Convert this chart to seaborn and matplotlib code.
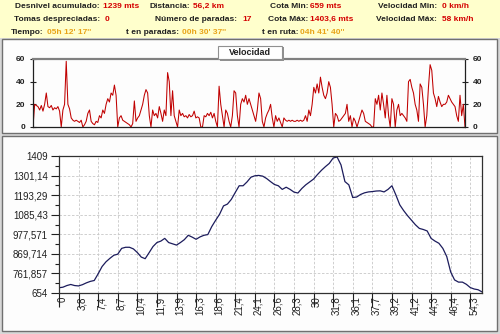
import numpy as np
import pandas as pd
import matplotlib
matplotlib.use("Agg")
import matplotlib.pyplot as plt
import matplotlib.transforms as mtransforms
from matplotlib.patches import Rectangle
import seaborn as sns

# ---------------- data ----------------
speed_kmh = [
    0, 20, 19, 18, 15, 19, 14, 20, 30, 18, 17, 19, 15, 17, 16, 18, 14, 0, 15, 20,
    58, 20, 16, 8, 6, 5, 6, 5, 4, 6, 0, 2, 5, 12, 15, 5, 3, 2, 5, 4,
    10, 8, 15, 12, 20, 25, 22, 30, 28, 37, 28, 0, 8, 10, 6, 5, 4, 3, 2, 0,
    3, 23, 5, 8, 10, 15, 20, 28, 33, 30, 10, 0, 15, 10, 12, 8, 18, 12, 5, 15,
    10, 48, 40, 10, 32, 10, 5, 0, 15, 10, 12, 9, 10, 8, 11, 9, 10, 14, 8, 9,
    8, 0, 0, 10, 9, 12, 10, 13, 8, 12, 5, 0, 36, 20, 10, 0, 15, 12, 5, 0,
    10, 32, 30, 10, 0, 20, 25, 22, 28, 20,
    25, 20, 15, 10, 5, 15, 30, 25, 5, 0, 8, 12, 15, 20, 8, 0, 10, 5, 8, 4,
    0, 8, 6, 5, 6, 5, 6, 5, 5, 6, 5, 6, 5, 6, 10, 5, 15, 10, 20, 35,
    30, 38, 30, 44, 35, 28, 25, 30, 40, 35, 20, 0, 12, 10, 5, 6, 8, 10, 12, 20,
    5, 10, 0, 8, 5, 0, 5, 10, 15, 12, 5, 4, 3, 2, 0, 0, 25, 20, 28, 15,
    30, 20, 8, 28, 10, 0, 25, 20, 0, 15, 20, 10, 12, 10, 8, 5, 40, 42, 35, 30,
    20, 15, 5, 38, 35, 20, 0, 10, 35, 55, 50, 30, 25, 18, 27, 22, 18, 20, 20, 22,
    28, 25, 22, 20, 18, 10, 5, 28, 10, 20, 0,
]

elevation_m = [
    683, 686, 695, 701, 695, 693, 700, 710, 718, 723,
    760, 800, 826, 845, 862, 868, 900, 906, 906, 897,
    877, 852, 843, 876, 910, 932, 940, 955, 932, 925,
    918, 932, 948, 972, 962, 950, 963, 972, 976, 1020,
    1055, 1088, 1134, 1144, 1170, 1208, 1245, 1245, 1266, 1292,
    1300, 1302, 1298, 1285, 1268, 1252, 1245, 1225, 1237, 1225,
    1210, 1205, 1230, 1250, 1266, 1282, 1307, 1330, 1350, 1368,
    1398, 1403.6, 1360, 1268, 1250, 1180, 1183, 1197, 1206, 1211,
    1213, 1216, 1217, 1211, 1225, 1245, 1195, 1140, 1108, 1080,
    1055, 1030, 1010, 1004, 996, 955, 940, 928, 900, 855,
    770, 726, 714, 714, 702, 684, 676, 672, 660,
]

km_labels = ["0", "3,8", "7,4", "8,7", "10,4", "11,9", "13,9", "16,3", "18,6",
             "21,4", "24,1", "26,6", "28,3", "30", "31,8", "36,1", "37,7",
             "39,2", "41,2", "44,3", "46,4", "54,3"]

elev_tick_labels = ["654", "761,857", "869,714", "977,571", "1085,43",
                    "1193,29", "1301,14", "1409"]
elev_min, elev_max = 654, 1409

speed_ticks = [0, 20, 40, 60]

header_labels = [
    ("Desnivel acumulado:", "1239 mts"), ("Distancia:", "56,2 km"),
    ("Cota Min:", "659 mts"), ("Velocidad Min:", "0 km/h"),
    ("Tomas despreciadas:", "0"), ("Número de paradas:", "17"),
    ("Cota Máx:", "1403,6 mts"), ("Velocidad Máx:", "58 km/h"),
    ("Tiempo:", "05h 12' 17''"), ("t en paradas:", "00h 30' 37''"),
    ("t en ruta:", "04h 41' 40''"),
]

# ---------------- style ----------------
sns.set_style("white")
plt.rcParams['font.family'] = ['Liberation Sans', 'DejaVu Sans']

W, H = 500, 334
fig = plt.figure(figsize=(W / 100, H / 100), dpi=100)
fig.patch.set_facecolor('white')


def fx(x):
    return x / W


def fy(y):
    return 1 - y / H


def rect_px(x0, y0, x1, y1, **kw):
    fig.add_artist(Rectangle((fx(x0), fy(y1)), (x1 - x0) / W, (y1 - y0) / H,
                             transform=fig.transFigure, **kw))


# header background and panel frames (behind the axes)
rect_px(0, 0, 500, 38, facecolor='#ffffcc', edgecolor='none', zorder=-5)
rect_px(0, 38, 500, 334, facecolor='#d8d8d8', edgecolor='none', zorder=-5)
rect_px(1.5, 38.5, 497, 133, facecolor='#fdfdfd', edgecolor='#707070', lw=1.0, zorder=-4)
rect_px(1.5, 135.5, 497, 331, facecolor='#fdfdfd', edgecolor='#707070', lw=1.0, zorder=-4)

# header texts (label right edge, value left edge, row y)
label_col = '#202020'
red = '#d40000'
orange = '#e8a317'
hdr_pos = [
    (100, 103, 6.7, red), (190, 193, 6.7, red), (308, 310, 6.7, red), (437, 442, 6.7, red),
    (100, 105, 19.3, red), (237, 242, 19.3, red), (308, 310, 19.3, red), (437, 442, 19.3, red),
    (43, 47, 32.2, orange), (179, 182, 32.2, orange), (298, 300, 32.2, orange),
]
for (lab, val), (xl, xv, y, col) in zip(header_labels, hdr_pos):
    fig.text(fx(xl), fy(y), lab, ha='right', va='center', fontsize=6,
             fontweight='bold', color=label_col)
    fig.text(fx(xv), fy(y), val, ha='left', va='center', fontsize=6,
             fontweight='bold', color=col)

# ---------------- speed panel ----------------
ax1 = fig.add_axes([fx(33), fy(127), 432 / W, 68 / H])
df_s = pd.DataFrame({'i': np.arange(len(speed_kmh)), 'v': speed_kmh})
sns.lineplot(data=df_s, x='i', y='v', ax=ax1, color='#c00000', lw=0.75)
ax1.set_xlim(0, len(speed_kmh) - 1)
ax1.set_ylim(0, 60)
ax1.set_yticks(speed_ticks)
ax1.set_xticks([])
ax1.set_xlabel('')
ax1.set_ylabel('')
ax1.set_facecolor('#fdfdfd')
ax1.tick_params(axis='y', left=True, right=True, labelleft=True, labelright=True,
                direction='inout', length=5, width=0.8, labelsize=6, pad=3,
                colors='#202020')
for s in ['left', 'right', 'bottom']:
    ax1.spines[s].set_color('#202020')
    ax1.spines[s].set_linewidth(0.9)
ax1.spines['top'].set_color('#808080')
ax1.spines['top'].set_linewidth(1.6)
for lab in ax1.get_yticklabels():
    lab.set_fontweight('bold')

# title box
rect_px(219.5, 47.5, 283.5, 60.5, facecolor='#909090', edgecolor='none', zorder=3)
rect_px(218, 46, 282, 59, facecolor='white', edgecolor='#909090', lw=0.8, zorder=4)
fig.text(fx(250), fy(52.5), "Velocidad", ha='center', va='center', fontsize=6.5,
         fontweight='bold', color='#202020', zorder=5)

# ---------------- elevation panel ----------------
ax2 = fig.add_axes([fx(59), fy(293), 423 / W, 137 / H])
df_e = pd.DataFrame({'i': np.arange(len(elevation_m)), 'e': elevation_m})
sns.lineplot(data=df_e, x='i', y='e', ax=ax2, color='#1c1c5c', lw=0.9)
ax2.set_xlim(0, len(elevation_m) - 1)
ax2.set_ylim(elev_min, elev_max)
step = 5
ax2.set_xticks(np.arange(len(km_labels)) * step)
ax2.set_xticklabels(km_labels, rotation=90, va='top', ha='center')
yt = np.linspace(elev_min, elev_max, len(elev_tick_labels))
ax2.set_yticks(yt)
ax2.set_yticklabels(elev_tick_labels)
ax2.set_yticks((yt[:-1] + yt[1:]) / 2, minor=True)
ax2.set_xlabel('')
ax2.set_ylabel('')
ax2.set_facecolor('white')
ax2.grid(True, which='major', color='#c8c8c8', ls=(0, (3, 2)), lw=0.6)
ax2.tick_params(axis='x', bottom=True, direction='out', length=10, width=0.8,
                labelsize=7, pad=-7.5, colors='#202020')
ax2.tick_params(axis='y', which='major', left=True, direction='out', length=6,
                width=0.8, labelsize=7, pad=2, colors='#202020')
ax2.tick_params(axis='y', which='minor', left=True, direction='out', length=3,
                width=0.8, colors='#202020')
for s in ['left', 'bottom', 'top', 'right']:
    ax2.spines[s].set_color('#303030')
    ax2.spines[s].set_linewidth(0.9)
off = mtransforms.ScaledTranslation(0.035, 0, fig.dpi_scale_trans)
for lab in ax2.get_xticklabels():
    lab.set_transform(lab.get_transform() + off)

fig.savefig("out.png", dpi=100, facecolor=fig.get_facecolor())
